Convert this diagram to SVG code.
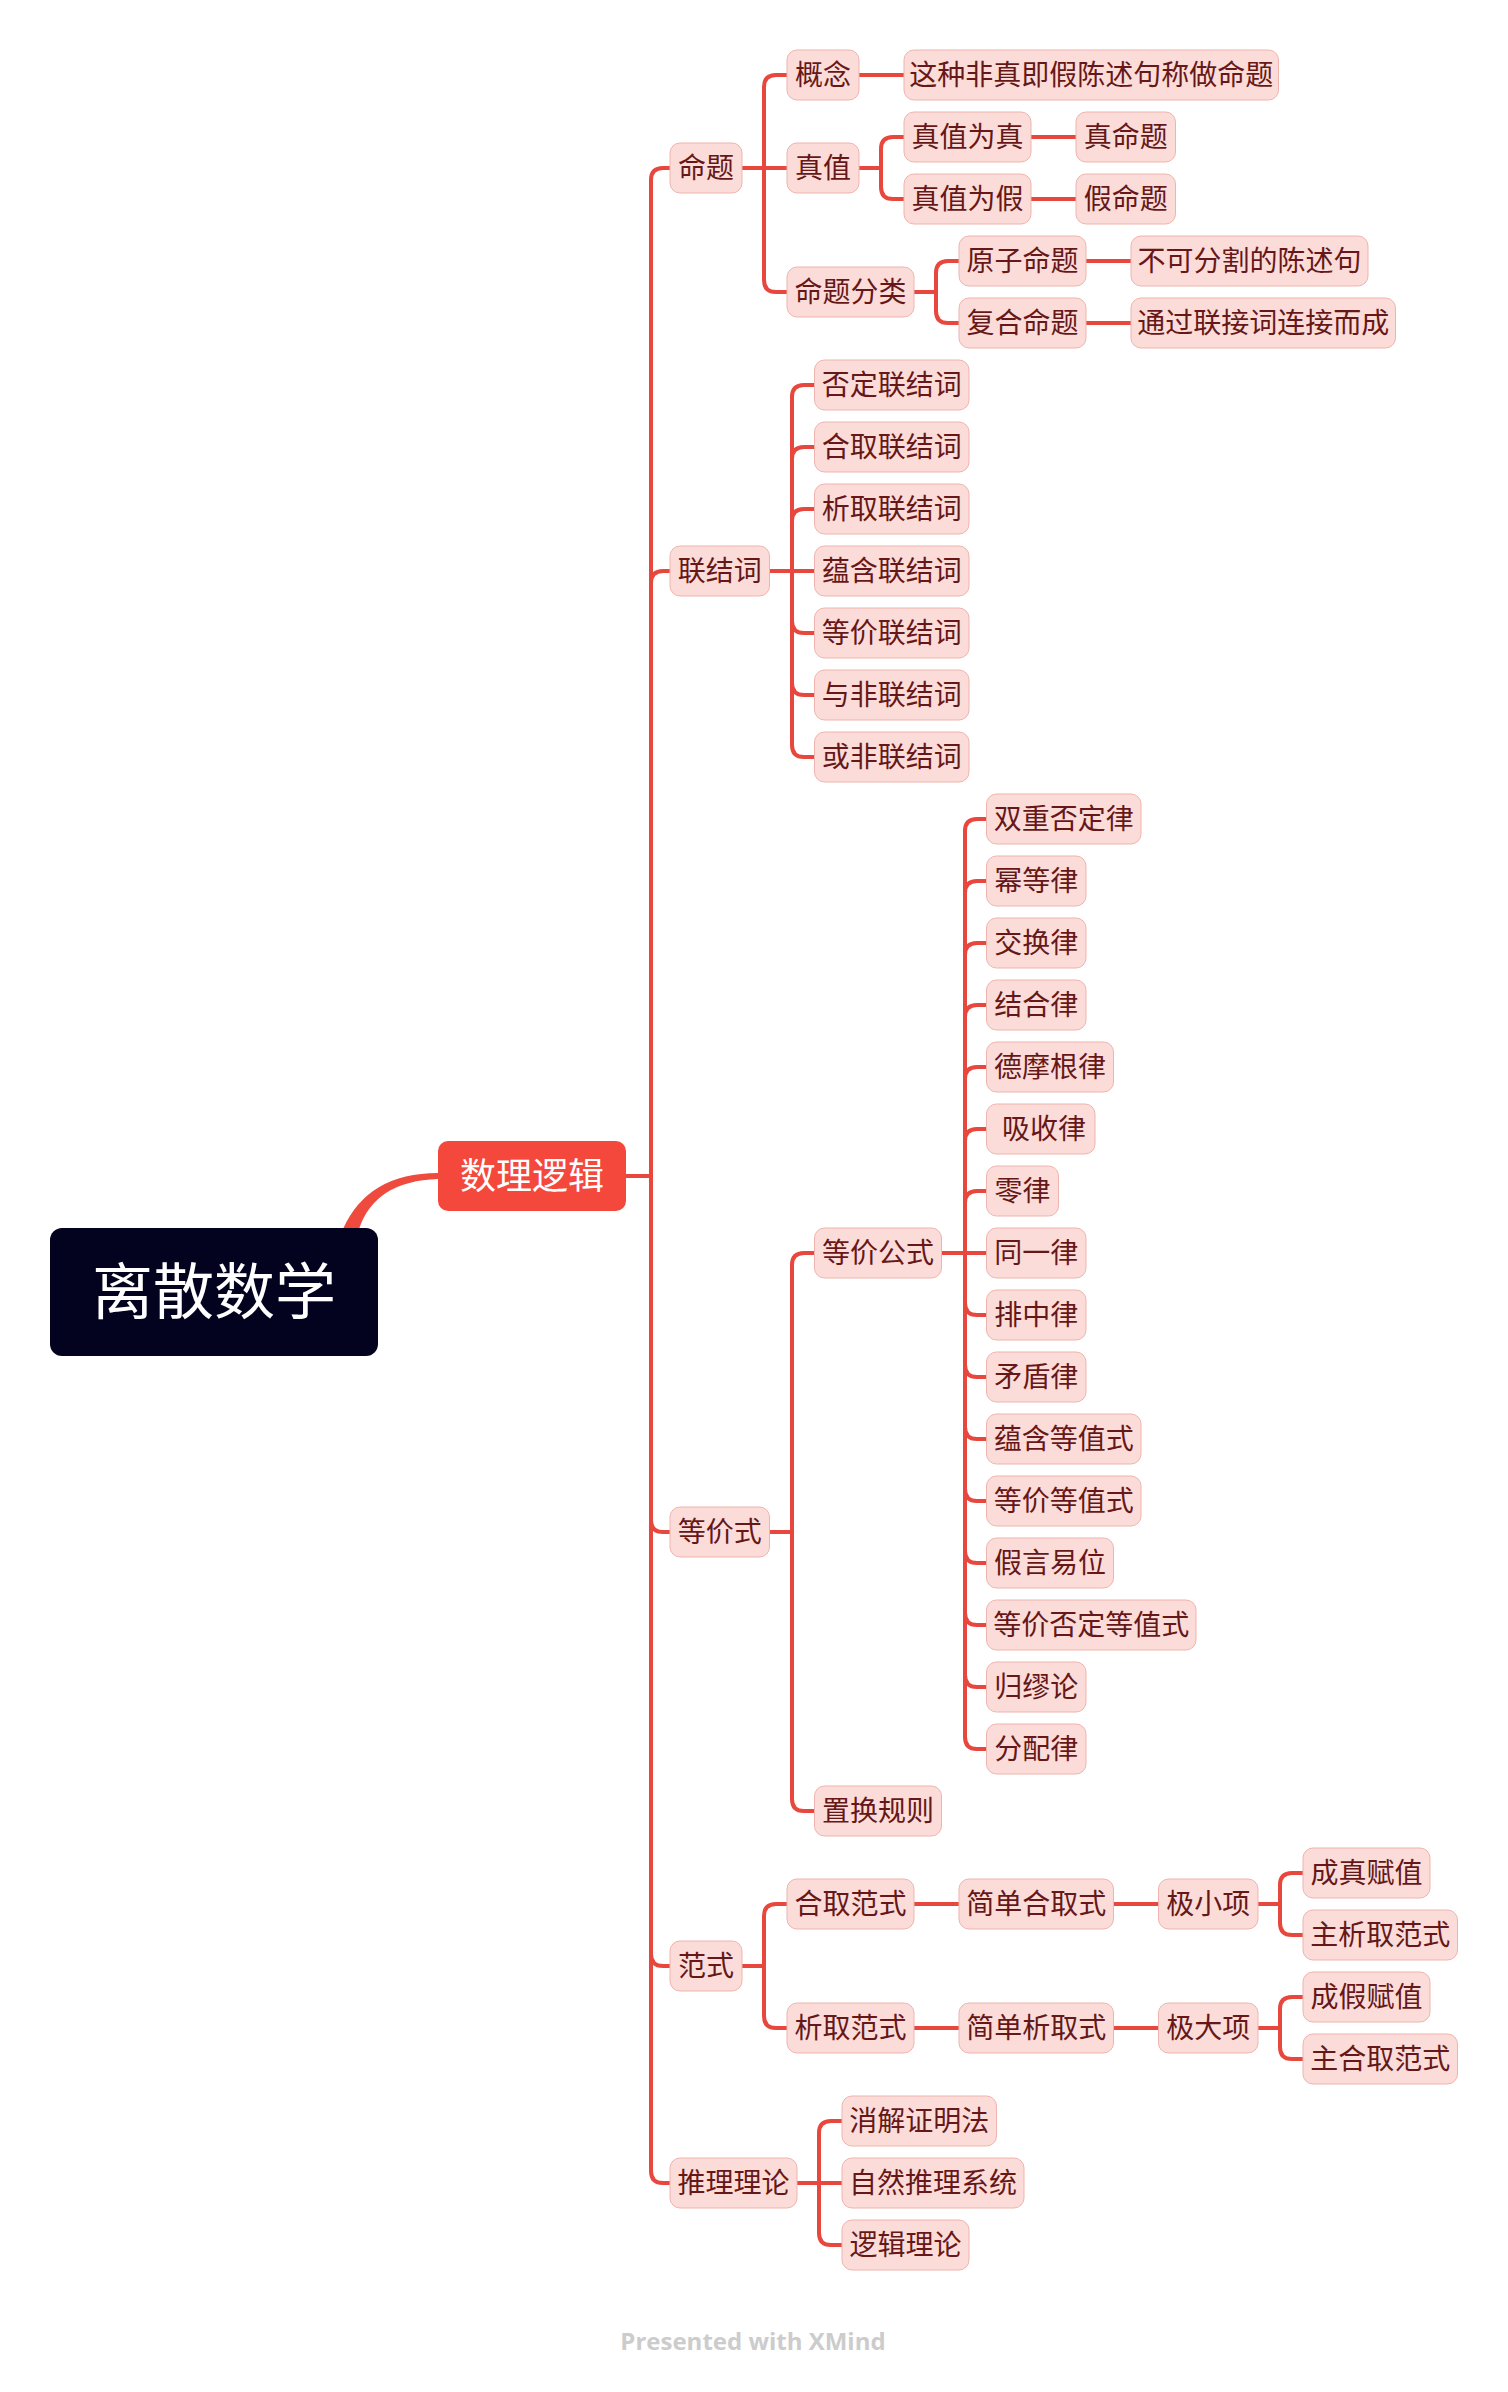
<svg xmlns="http://www.w3.org/2000/svg" width="1508" height="2392" viewBox="0 0 1508 2392">
<style>
.n rect{fill:#fcdcd9;stroke:#efb4ae;stroke-width:1}
.n text{font-family:"Noto Sans CJK SC","Noto Sans",sans-serif;font-size:28px;fill:#661818;text-anchor:middle}
.c path{fill:none;stroke:#e8473e;stroke-width:4;stroke-linejoin:round}
.big text{font-family:"Noto Sans CJK SC","Noto Sans",sans-serif;fill:#ffffff;text-anchor:middle}
</style>
<rect x="0" y="0" width="1508" height="2392" fill="#ffffff"/>
<g id="connectors" class="c">
<path d="M343 1229 Q368 1173 438 1173 L438 1179 Q375 1181 359 1229 Z" style="fill:#ef4a3e;stroke:none"/>
<path d="M626 1176 H651"/>
<path d="M651 1176 V180 Q651 168 663 168 H670"/>
<path d="M651 1176 V583 Q651 571 663 571 H670"/>
<path d="M651 1176 V1520 Q651 1532 663 1532 H670"/>
<path d="M651 1176 V1954 Q651 1966 663 1966 H670"/>
<path d="M651 1176 V2171 Q651 2183 663 2183 H670"/>
<path d="M742 168 H764"/>
<path d="M764 168 V87 Q764 75 776 75 H787"/>
<path d="M764 168 H787"/>
<path d="M764 168 V280 Q764 292 776 292 H787"/>
<path d="M859 75 H904"/>
<path d="M859 168 H881"/>
<path d="M881 168 V149 Q881 137 893 137 H904"/>
<path d="M881 168 V187 Q881 199 893 199 H904"/>
<path d="M1031 137 H1076"/>
<path d="M1031 199 H1076"/>
<path d="M914 292 H936"/>
<path d="M936 292 V273 Q936 261 948 261 H959"/>
<path d="M936 292 V311 Q936 323 948 323 H959"/>
<path d="M1086 261 H1131"/>
<path d="M1086 323 H1131"/>
<path d="M769.5 571 H792"/>
<path d="M792 571 V397 Q792 385 804 385 H814.5"/>
<path d="M792 571 V459 Q792 447 804 447 H814.5"/>
<path d="M792 571 V521 Q792 509 804 509 H814.5"/>
<path d="M792 571 H814.5"/>
<path d="M792 571 V621 Q792 633 804 633 H814.5"/>
<path d="M792 571 V683 Q792 695 804 695 H814.5"/>
<path d="M792 571 V745 Q792 757 804 757 H814.5"/>
<path d="M769.5 1532 H792"/>
<path d="M792 1532 V1265 Q792 1253 804 1253 H814.5"/>
<path d="M792 1532 V1799 Q792 1811 804 1811 H814.5"/>
<path d="M941.5 1253 H965"/>
<path d="M965 1253 V831 Q965 819 977 819 H986.5"/>
<path d="M965 1253 V893 Q965 881 977 881 H986.5"/>
<path d="M965 1253 V955 Q965 943 977 943 H986.5"/>
<path d="M965 1253 V1017 Q965 1005 977 1005 H986.5"/>
<path d="M965 1253 V1079 Q965 1067 977 1067 H986.5"/>
<path d="M965 1253 V1141 Q965 1129 977 1129 H986.5"/>
<path d="M965 1253 V1203 Q965 1191 977 1191 H986.5"/>
<path d="M965 1253 H986.5"/>
<path d="M965 1253 V1303 Q965 1315 977 1315 H986.5"/>
<path d="M965 1253 V1365 Q965 1377 977 1377 H986.5"/>
<path d="M965 1253 V1427 Q965 1439 977 1439 H986.5"/>
<path d="M965 1253 V1489 Q965 1501 977 1501 H986.5"/>
<path d="M965 1253 V1551 Q965 1563 977 1563 H986.5"/>
<path d="M965 1253 V1613 Q965 1625 977 1625 H986.5"/>
<path d="M965 1253 V1675 Q965 1687 977 1687 H986.5"/>
<path d="M965 1253 V1737 Q965 1749 977 1749 H986.5"/>
<path d="M742 1966 H764"/>
<path d="M764 1966 V1916 Q764 1904 776 1904 H787"/>
<path d="M764 1966 V2016 Q764 2028 776 2028 H787"/>
<path d="M914 1904 H959"/>
<path d="M1113.5 1904 H1158.5"/>
<path d="M1258 1904 H1280"/>
<path d="M1280 1904 V1885 Q1280 1873 1292 1873 H1303"/>
<path d="M1280 1904 V1923 Q1280 1935 1292 1935 H1303"/>
<path d="M914 2028 H959"/>
<path d="M1113.5 2028 H1158.5"/>
<path d="M1258 2028 H1280"/>
<path d="M1280 2028 V2009 Q1280 1997 1292 1997 H1303"/>
<path d="M1280 2028 V2047 Q1280 2059 1292 2059 H1303"/>
<path d="M797 2183 H819"/>
<path d="M819 2183 V2133 Q819 2121 831 2121 H842"/>
<path d="M819 2183 H842"/>
<path d="M819 2183 V2233 Q819 2245 831 2245 H842"/>
</g>
<g id="root" class="big"><rect x="50" y="1228" width="328" height="128" rx="12" fill="#03031f"/><text x="214" y="1314" font-size="61">离散数学</text></g>
<g id="n0" class="big"><rect x="438" y="1141" width="188" height="70" rx="10" fill="#f5483c"/><text x="532" y="1189" font-size="36">数理逻辑</text></g>
<g id="n1" class="n"><rect x="670" y="143" width="72" height="50" rx="10"/><text x="706" y="178">命题</text></g>
<g id="n2" class="n"><rect x="670" y="546" width="99.5" height="50" rx="10"/><text x="719.75" y="581">联结词</text></g>
<g id="n3" class="n"><rect x="670" y="1507" width="99.5" height="50" rx="10"/><text x="719.75" y="1542">等价式</text></g>
<g id="n4" class="n"><rect x="670" y="1941" width="72" height="50" rx="10"/><text x="706" y="1976">范式</text></g>
<g id="n5" class="n"><rect x="670" y="2158" width="127" height="50" rx="10"/><text x="733.5" y="2193">推理理论</text></g>
<g id="n1a" class="n"><rect x="787" y="50" width="72" height="50" rx="10"/><text x="823" y="85">概念</text></g>
<g id="n1a1" class="n"><rect x="904" y="50" width="374.5" height="50" rx="10"/><text x="1091.25" y="85">这种非真即假陈述句称做命题</text></g>
<g id="n1b" class="n"><rect x="787" y="143" width="72" height="50" rx="10"/><text x="823" y="178">真值</text></g>
<g id="n1b1" class="n"><rect x="904" y="112" width="127" height="50" rx="10"/><text x="967.5" y="147">真值为真</text></g>
<g id="n1b1a" class="n"><rect x="1076" y="112" width="99.5" height="50" rx="10"/><text x="1125.75" y="147">真命题</text></g>
<g id="n1b2" class="n"><rect x="904" y="174" width="127" height="50" rx="10"/><text x="967.5" y="209">真值为假</text></g>
<g id="n1b2a" class="n"><rect x="1076" y="174" width="99.5" height="50" rx="10"/><text x="1125.75" y="209">假命题</text></g>
<g id="n1c" class="n"><rect x="787" y="267" width="127" height="50" rx="10"/><text x="850.5" y="302">命题分类</text></g>
<g id="n1c1" class="n"><rect x="959" y="236" width="127" height="50" rx="10"/><text x="1022.5" y="271">原子命题</text></g>
<g id="n1c1a" class="n"><rect x="1131" y="236" width="237" height="50" rx="10"/><text x="1249.5" y="271">不可分割的陈述句</text></g>
<g id="n1c2" class="n"><rect x="959" y="298" width="127" height="50" rx="10"/><text x="1022.5" y="333">复合命题</text></g>
<g id="n1c2a" class="n"><rect x="1131" y="298" width="264.5" height="50" rx="10"/><text x="1263.25" y="333">通过联接词连接而成</text></g>
<g id="n2a" class="n"><rect x="814.5" y="360" width="154.5" height="50" rx="10"/><text x="891.75" y="395">否定联结词</text></g>
<g id="n2b" class="n"><rect x="814.5" y="422" width="154.5" height="50" rx="10"/><text x="891.75" y="457">合取联结词</text></g>
<g id="n2c" class="n"><rect x="814.5" y="484" width="154.5" height="50" rx="10"/><text x="891.75" y="519">析取联结词</text></g>
<g id="n2d" class="n"><rect x="814.5" y="546" width="154.5" height="50" rx="10"/><text x="891.75" y="581">蕴含联结词</text></g>
<g id="n2e" class="n"><rect x="814.5" y="608" width="154.5" height="50" rx="10"/><text x="891.75" y="643">等价联结词</text></g>
<g id="n2f" class="n"><rect x="814.5" y="670" width="154.5" height="50" rx="10"/><text x="891.75" y="705">与非联结词</text></g>
<g id="n2g" class="n"><rect x="814.5" y="732" width="154.5" height="50" rx="10"/><text x="891.75" y="767">或非联结词</text></g>
<g id="n3a" class="n"><rect x="814.5" y="1228" width="127" height="50" rx="10"/><text x="878" y="1263">等价公式</text></g>
<g id="n3b" class="n"><rect x="814.5" y="1786" width="127" height="50" rx="10"/><text x="878" y="1821">置换规则</text></g>
<g id="n3a01" class="n"><rect x="986.5" y="794" width="154.5" height="50" rx="10"/><text x="1063.75" y="829">双重否定律</text></g>
<g id="n3a02" class="n"><rect x="986.5" y="856" width="99.5" height="50" rx="10"/><text x="1036.25" y="891">幂等律</text></g>
<g id="n3a03" class="n"><rect x="986.5" y="918" width="99.5" height="50" rx="10"/><text x="1036.25" y="953">交换律</text></g>
<g id="n3a04" class="n"><rect x="986.5" y="980" width="99.5" height="50" rx="10"/><text x="1036.25" y="1015">结合律</text></g>
<g id="n3a05" class="n"><rect x="986.5" y="1042" width="127" height="50" rx="10"/><text x="1050" y="1077">德摩根律</text></g>
<g id="n3a06" class="n"><rect x="986.5" y="1104" width="108.5" height="50" rx="10"/><text x="1040.75" y="1139" xml:space="preserve"> 吸收律</text></g>
<g id="n3a07" class="n"><rect x="986.5" y="1166" width="72" height="50" rx="10"/><text x="1022.5" y="1201">零律</text></g>
<g id="n3a08" class="n"><rect x="986.5" y="1228" width="99.5" height="50" rx="10"/><text x="1036.25" y="1263">同一律</text></g>
<g id="n3a09" class="n"><rect x="986.5" y="1290" width="99.5" height="50" rx="10"/><text x="1036.25" y="1325">排中律</text></g>
<g id="n3a10" class="n"><rect x="986.5" y="1352" width="99.5" height="50" rx="10"/><text x="1036.25" y="1387">矛盾律</text></g>
<g id="n3a11" class="n"><rect x="986.5" y="1414" width="154.5" height="50" rx="10"/><text x="1063.75" y="1449">蕴含等值式</text></g>
<g id="n3a12" class="n"><rect x="986.5" y="1476" width="154.5" height="50" rx="10"/><text x="1063.75" y="1511">等价等值式</text></g>
<g id="n3a13" class="n"><rect x="986.5" y="1538" width="127" height="50" rx="10"/><text x="1050" y="1573">假言易位</text></g>
<g id="n3a14" class="n"><rect x="986.5" y="1600" width="209.5" height="50" rx="10"/><text x="1091.25" y="1635">等价否定等值式</text></g>
<g id="n3a15" class="n"><rect x="986.5" y="1662" width="99.5" height="50" rx="10"/><text x="1036.25" y="1697">归缪论</text></g>
<g id="n3a16" class="n"><rect x="986.5" y="1724" width="99.5" height="50" rx="10"/><text x="1036.25" y="1759">分配律</text></g>
<g id="n4a" class="n"><rect x="787" y="1879" width="127" height="50" rx="10"/><text x="850.5" y="1914">合取范式</text></g>
<g id="n4a1" class="n"><rect x="959" y="1879" width="154.5" height="50" rx="10"/><text x="1036.25" y="1914">简单合取式</text></g>
<g id="n4a2" class="n"><rect x="1158.5" y="1879" width="99.5" height="50" rx="10"/><text x="1208.25" y="1914">极小项</text></g>
<g id="n4a3" class="n"><rect x="1303" y="1848" width="127" height="50" rx="10"/><text x="1366.5" y="1883">成真赋值</text></g>
<g id="n4a4" class="n"><rect x="1303" y="1910" width="154.5" height="50" rx="10"/><text x="1380.25" y="1945">主析取范式</text></g>
<g id="n4b" class="n"><rect x="787" y="2003" width="127" height="50" rx="10"/><text x="850.5" y="2038">析取范式</text></g>
<g id="n4b1" class="n"><rect x="959" y="2003" width="154.5" height="50" rx="10"/><text x="1036.25" y="2038">简单析取式</text></g>
<g id="n4b2" class="n"><rect x="1158.5" y="2003" width="99.5" height="50" rx="10"/><text x="1208.25" y="2038">极大项</text></g>
<g id="n4b3" class="n"><rect x="1303" y="1972" width="127" height="50" rx="10"/><text x="1366.5" y="2007">成假赋值</text></g>
<g id="n4b4" class="n"><rect x="1303" y="2034" width="154.5" height="50" rx="10"/><text x="1380.25" y="2069">主合取范式</text></g>
<g id="n5a" class="n"><rect x="842" y="2096" width="154.5" height="50" rx="10"/><text x="919.25" y="2131">消解证明法</text></g>
<g id="n5b" class="n"><rect x="842" y="2158" width="182" height="50" rx="10"/><text x="933" y="2193">自然推理系统</text></g>
<g id="n5c" class="n"><rect x="842" y="2220" width="127" height="50" rx="10"/><text x="905.5" y="2255">逻辑理论</text></g>
<text x="753" y="2350" font-family="'Open Sans','Noto Sans',sans-serif" font-weight="700" font-size="24" fill="#cccccc" text-anchor="middle">Presented with XMind</text>
</svg>
